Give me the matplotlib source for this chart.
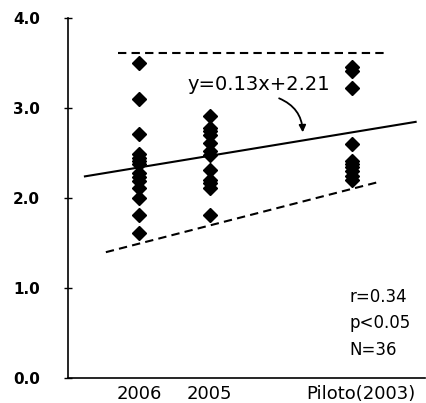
import numpy as np
import matplotlib.pyplot as plt
from matplotlib.transforms import ScaledTranslation

# category positions on the numeric x axis
cat_labels = ["2006", "2005", "Piloto(2003)"]
cat_x = [1, 2, 4]

# values
vals_2006 = [3.50, 3.10, 2.71, 2.49, 2.45, 2.41, 2.38, 2.28, 2.23, 2.19, 2.11, 2.00, 1.81, 1.61]
vals_2005 = [2.91, 2.78, 2.74, 2.70, 2.61, 2.52, 2.48, 2.31, 2.20, 2.17, 2.11, 1.81]
vals_piloto = [3.46, 3.41, 3.22, 2.60, 2.41, 2.38, 2.35, 2.30, 2.24, 2.20]

# regression and bounds
slope, intercept = 0.13, 2.21
fit_x = [0.24, 4.9]
upper_y = 3.61
upper_x = [0.71, 4.5]
lower_slope, lower_int = 0.203, 1.29
lower_x = [0.535, 4.37]

plt.rcParams['font.family'] = ['DejaVu Sans']

fig = plt.figure(figsize=(4.27, 4.03), dpi=100)
ax = fig.add_axes([0.159, 0.062, 0.836, 0.893])

groups = [vals_2006, vals_2005, vals_piloto]
for x, vals in zip(cat_x, groups):
    ax.plot([x] * len(vals), vals, 'D', color='black', ms=6.8, zorder=3)

fx = np.array(fit_x)
ax.plot(fx, slope * fx + intercept, color='black', lw=1.5)
ax.plot(upper_x, [upper_y, upper_y], color='black', lw=1.5, ls=(0, (4, 2.5)))
lx = np.array(lower_x)
ax.plot(lx, lower_slope * lx + lower_int, color='black', lw=1.5, ls=(0, (4, 2.5)))

ax.text(1.69, 3.26, "y=0.13x+2.21", fontsize=14, va='center', ha='left')
ax.annotate("", xy=(3.31, 2.70), xytext=(2.94, 3.12),
            arrowprops=dict(arrowstyle='-|>', color='black', lw=1.3,
                            connectionstyle='arc3,rad=-0.35', mutation_scale=10))

ax.text(3.97, 1.0, "r=0.34\np<0.05\nN=36", fontsize=12, va='top', ha='left',
        linespacing=1.6)

ax.set_xlim(0, 5.03)
ax.set_ylim(0, 4)
ax.set_yticks([0, 1, 2, 3, 4])
ax.set_yticklabels(["0.0", "1.0", "2.0", "3.0", "4.0"], fontsize=11, fontweight='bold')
ax.set_xticks(cat_x)
ax.set_xticklabels(cat_labels, fontsize=13)
ax.tick_params(axis='x', length=0, pad=5)
ax.tick_params(axis='y', direction='inout', length=6, width=1, pad=17)

# last label sits a bit right of its points
lab = ax.get_xticklabels()[2]
lab.set_transform(lab.get_transform() + ScaledTranslation(9 / 100, 0, fig.dpi_scale_trans))

ax.spines['top'].set_visible(False)
ax.spines['right'].set_visible(False)
ax.spines['left'].set_linewidth(1.2)
ax.spines['bottom'].set_linewidth(1.2)

fig.savefig("out.png", dpi=100)
